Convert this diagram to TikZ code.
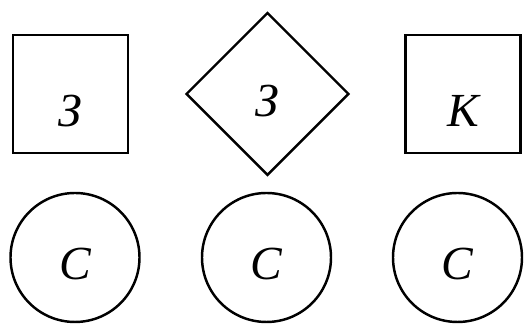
\documentclass[tikz,border=0pt]{standalone}
\usepackage{fontspec}
\setmainfont{Liberation Serif}
\usetikzlibrary{shapes.geometric}

\begin{document}
\begin{tikzpicture}[
    sq/.style={rectangle, draw, line width=1.4pt, minimum width=2.3cm, minimum height=2.36cm, text height=1.32cm, text depth=0pt, inner sep=0pt},
    rhomb/.style={diamond, draw, line width=1.4pt, aspect=1, minimum width=3.26cm, minimum height=3.26cm, text height=0.92cm, text depth=0pt, inner sep=0pt},
    ring/.style={circle, draw, line width=1.4pt, minimum size=2.58cm, text height=0.9cm, text depth=0pt, inner sep=0pt},
    every node/.style={font=\fontsize{27}{32}\selectfont\itshape}]

    \useasboundingbox (0,0) rectangle (10.62,6.48);

    % Upper row
    \node[sq] (leftsq) at (1.41,4.60) {З};
    \node[rhomb] (mid) at (5.35,4.60) {З};
    \node[sq] (rightsq) at (9.26,4.60) {К};

    % Lower row
    \node[ring] (c1) at (1.50,1.33) {С};
    \node[ring] (c2) at (5.33,1.33) {С};
    \node[ring] (c3) at (9.15,1.33) {С};

\end{tikzpicture}
\end{document}
